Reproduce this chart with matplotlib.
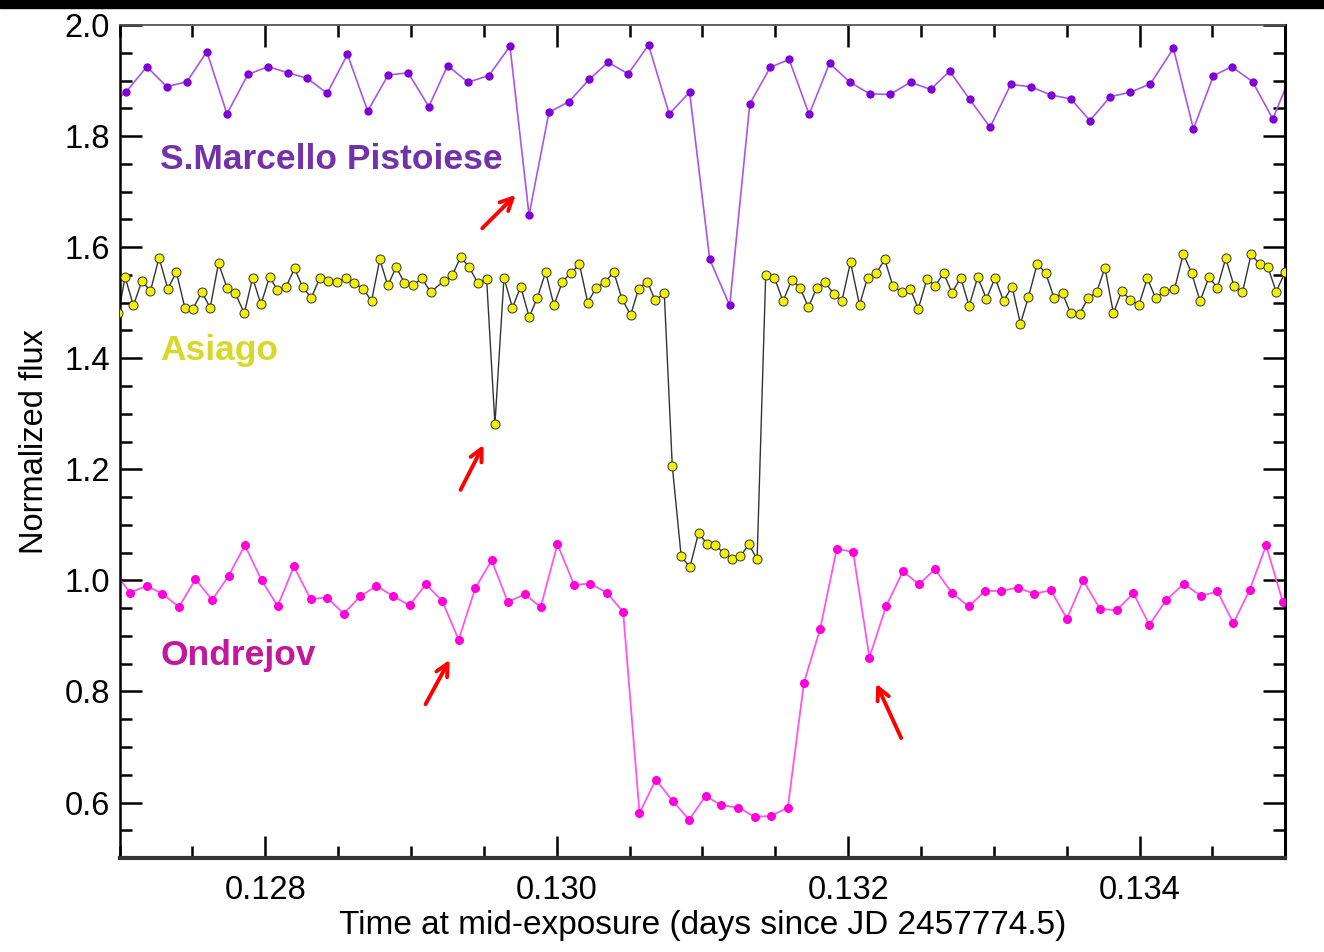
# Import the relevant packages
import matplotlib
matplotlib.use("Agg")
import matplotlib.pyplot as plt
from matplotlib.patches import Rectangle
from matplotlib.ticker import MultipleLocator, FormatStrFormatter

# Use a Helvetica-like font everywhere
plt.rcParams["font.family"] = ["Liberation Sans", "DejaVu Sans"]

# S.Marcello Pistoiese light curve (time in days since JD 2457774.5, normalized flux)
marcello_time = [
    0.126904, 0.127043, 0.127187, 0.127324, 0.127462, 0.127599, 0.127737, 0.127881,
    0.128019, 0.128156, 0.128289, 0.128424, 0.128564, 0.128703, 0.128843, 0.128981,
    0.129122, 0.129251, 0.129390, 0.129535, 0.129679, 0.129810, 0.129947, 0.130085,
    0.130222, 0.130353, 0.130490, 0.130630, 0.130772, 0.130912, 0.131050, 0.131187,
    0.131325, 0.131466, 0.131595, 0.131732, 0.131872, 0.132012, 0.132149, 0.132287,
    0.132428, 0.132566, 0.132696, 0.132834, 0.132974, 0.133116, 0.133253, 0.133391,
    0.133528, 0.133659, 0.133799, 0.133936, 0.134074, 0.134232, 0.134369, 0.134507,
    0.134632, 0.134775, 0.134914, 0.135052,
]
marcello_flux = [
    1.851, 1.879, 1.925, 1.889, 1.898, 1.952, 1.840, 1.911,
    1.925, 1.914, 1.904, 1.877, 1.947, 1.845, 1.910, 1.914,
    1.853, 1.927, 1.897, 1.909, 1.962, 1.658, 1.843, 1.862,
    1.902, 1.933, 1.912, 1.964, 1.840, 1.879, 1.578, 1.495,
    1.858, 1.924, 1.938, 1.839, 1.931, 1.897, 1.876, 1.875,
    1.897, 1.884, 1.917, 1.866, 1.816, 1.893, 1.889, 1.874,
    1.867, 1.828, 1.871, 1.879, 1.894, 1.958, 1.813, 1.909,
    1.925, 1.898, 1.831, 1.919,
]

# Asiago light curve
asiago_time = [
    0.126992, 0.127038, 0.127095, 0.127153, 0.127212, 0.127271, 0.127331, 0.127390,
    0.127448, 0.127503, 0.127565, 0.127622, 0.127679, 0.127737, 0.127794, 0.127856,
    0.127913, 0.127970, 0.128030, 0.128082, 0.128142, 0.128201, 0.128256, 0.128316,
    0.128373, 0.128433, 0.128493, 0.128552, 0.128612, 0.128672, 0.128729, 0.128786,
    0.128841, 0.128898, 0.128955, 0.129017, 0.129074, 0.129134, 0.129225, 0.129283,
    0.129340, 0.129397, 0.129459, 0.129519, 0.129576, 0.129638, 0.129696, 0.129753,
    0.129811, 0.129867, 0.129924, 0.129981, 0.130039, 0.130096, 0.130156, 0.130213,
    0.130270, 0.130330, 0.130392, 0.130447, 0.130507, 0.130562, 0.130621, 0.130676,
    0.130738, 0.130793, 0.130854, 0.130914, 0.130974, 0.131029, 0.131086, 0.131146,
    0.131205, 0.131260, 0.131318, 0.131375, 0.131434, 0.131494, 0.131553, 0.131613,
    0.131670, 0.131727, 0.131785, 0.131842, 0.131902, 0.131957, 0.132016, 0.132078,
    0.132133, 0.132193, 0.132251, 0.132307, 0.132366, 0.132426, 0.132481, 0.132541,
    0.132596, 0.132655, 0.132713, 0.132772, 0.132830, 0.132889, 0.132949, 0.133008,
    0.133066, 0.133125, 0.133182, 0.133237, 0.133297, 0.133356, 0.133414, 0.133471,
    0.133526, 0.133588, 0.133645, 0.133705, 0.133762, 0.133820, 0.133877, 0.133936,
    0.133995, 0.134053, 0.134110, 0.134170, 0.134239, 0.134300, 0.134357, 0.134415,
    0.134476, 0.134534, 0.134591, 0.134648, 0.134706, 0.134765, 0.134823, 0.134880,
    0.134937, 0.134999,
]
asiago_flux = [
    1.481, 1.546, 1.495, 1.539, 1.521, 1.581, 1.525, 1.555,
    1.491, 1.489, 1.519, 1.491, 1.571, 1.527, 1.517, 1.481,
    1.545, 1.497, 1.547, 1.523, 1.528, 1.562, 1.528, 1.509,
    1.544, 1.539, 1.537, 1.545, 1.535, 1.525, 1.503, 1.578,
    1.531, 1.564, 1.536, 1.531, 1.545, 1.519, 1.539, 1.549,
    1.582, 1.565, 1.535, 1.542, 1.281, 1.545, 1.491, 1.529,
    1.474, 1.509, 1.555, 1.495, 1.538, 1.553, 1.569, 1.500,
    1.527, 1.537, 1.555, 1.507, 1.478, 1.525, 1.538, 1.504,
    1.517, 1.206, 1.043, 1.024, 1.086, 1.066, 1.063, 1.050,
    1.039, 1.043, 1.065, 1.038, 1.549, 1.545, 1.503, 1.541,
    1.527, 1.492, 1.527, 1.537, 1.515, 1.503, 1.573, 1.496,
    1.545, 1.553, 1.578, 1.530, 1.520, 1.525, 1.489, 1.543,
    1.530, 1.553, 1.518, 1.545, 1.494, 1.546, 1.507, 1.545,
    1.503, 1.529, 1.462, 1.510, 1.570, 1.553, 1.508, 1.517,
    1.481, 1.480, 1.508, 1.519, 1.563, 1.481, 1.521, 1.505,
    1.496, 1.544, 1.508, 1.521, 1.524, 1.588, 1.553, 1.503,
    1.546, 1.527, 1.580, 1.530, 1.519, 1.587, 1.570, 1.564,
    1.520, 1.555,
]

# Ondrejov light curve
ondrejov_time = [
    0.126959, 0.127072, 0.127187, 0.127294, 0.127407, 0.127521, 0.127636, 0.127748,
    0.127860, 0.127975, 0.128085, 0.128197, 0.128311, 0.128424, 0.128538, 0.128651,
    0.128763, 0.128875, 0.128990, 0.129102, 0.129214, 0.129327, 0.129441, 0.129553,
    0.129665, 0.129780, 0.129890, 0.130005, 0.130119, 0.130229, 0.130344, 0.130456,
    0.130568, 0.130680, 0.130795, 0.130909, 0.131022, 0.131127, 0.131246, 0.131361,
    0.131473, 0.131586, 0.131696, 0.131808, 0.131922, 0.132034, 0.132146, 0.132261,
    0.132376, 0.132486, 0.132596, 0.132710, 0.132827, 0.132940, 0.133052, 0.133162,
    0.133276, 0.133391, 0.133501, 0.133613, 0.133727, 0.133842, 0.133957, 0.134067,
    0.134181, 0.134303, 0.134420, 0.134534, 0.134644, 0.134756, 0.134868, 0.134983,
]
ondrejov_flux = [
    1.016, 0.978, 0.990, 0.976, 0.952, 1.002, 0.965, 1.008,
    1.063, 1.000, 0.954, 1.025, 0.966, 0.969, 0.940, 0.971,
    0.990, 0.972, 0.955, 0.993, 0.963, 0.893, 0.986, 1.036,
    0.961, 0.975, 0.952, 1.065, 0.992, 0.994, 0.978, 0.943,
    0.581, 0.641, 0.603, 0.569, 0.612, 0.595, 0.591, 0.574,
    0.576, 0.591, 0.815, 0.913, 1.057, 1.051, 0.861, 0.954,
    1.016, 0.993, 1.020, 0.978, 0.953, 0.981, 0.981, 0.987,
    0.976, 0.982, 0.931, 1.000, 0.949, 0.946, 0.977, 0.920,
    0.964, 0.994, 0.972, 0.980, 0.923, 0.983, 1.063, 0.961,
]

# Red arrows pointing at the secondary dips: (tail x, tail y, head x, head y)
arrows = [
    (0.129489, 1.634, 0.129718, 1.694),
    (0.129340, 1.163, 0.129498, 1.244),
    (0.129100, 0.777, 0.129265, 0.857),
    (0.132364, 0.716, 0.132193, 0.814),
]

# Make the figure (1324 x 952 pixels)
fig = plt.figure(figsize=(13.24, 9.52), dpi=100)
ax = fig.add_axes([0.0903, 0.0987, 0.8805, 0.8750])

# Thin black band along the top of the picture
fig.add_artist(Rectangle((0, 1 - 8 / 952), 1, 8 / 952, color="black",
                         transform=fig.transFigure, zorder=0))

# Plot the three light curves
ax.plot(marcello_time, marcello_flux, "-", color="#a855ee", lw=1.2, zorder=2)
ax.plot(marcello_time, marcello_flux, "o", color="#7e00d6", ms=6, mew=0, zorder=3)

ax.plot(asiago_time, asiago_flux, "-", color="#333333", lw=1.0, zorder=2)
ax.plot(asiago_time, asiago_flux, "o", mfc="#f2f200", mec="#333333",
        ms=6.5, mew=0.7, zorder=3)

ax.plot(ondrejov_time, ondrejov_flux, "-", color="#ff55ee", lw=1.3, zorder=2)
ax.plot(ondrejov_time, ondrejov_flux, "o", color="#ff00d8", ms=6.5, mew=0, zorder=3)

# Station names
ax.text(0.127278, 1.758, "S.Marcello Pistoiese", color="#7432a8",
        fontsize=25.5, fontweight="bold", va="center", ha="left")
ax.text(0.127278, 1.414, "Asiago", color="#d8d82a",
        fontsize=25.5, fontweight="bold", va="center", ha="left")
ax.text(0.127278, 0.865, "Ondrejov", color="#c2189e",
        fontsize=25.5, fontweight="bold", va="center", ha="left")

# Red arrows
for x0, y0, x1, y1 in arrows:
    ax.annotate("", xy=(x1, y1), xytext=(x0, y0),
                arrowprops=dict(arrowstyle="->", color="red", lw=2.8,
                                mutation_scale=22, shrinkA=0, shrinkB=0))

# Axis ranges and ticks
ax.set_xlim(0.127, 0.135)
ax.set_ylim(0.5, 2.0)
ax.xaxis.set_major_locator(MultipleLocator(0.002))
ax.xaxis.set_minor_locator(MultipleLocator(0.0005))
ax.yaxis.set_major_locator(MultipleLocator(0.2))
ax.yaxis.set_minor_locator(MultipleLocator(0.05))
ax.xaxis.set_major_formatter(FormatStrFormatter("%.3f"))
ax.yaxis.set_major_formatter(FormatStrFormatter("%.1f"))
ax.tick_params(which="both", direction="in", top=True, right=True, colors="black")
ax.tick_params(which="major", length=16, width=1.8, labelsize=23.5)
ax.tick_params(which="minor", length=8.5, width=1.8)
ax.tick_params(axis="x", which="major", pad=12)
ax.tick_params(axis="y", which="major", pad=7)

# Frame
ax.spines["left"].set_linewidth(1.8)
ax.spines["right"].set_linewidth(2.2)
ax.spines["top"].set_linewidth(1.3)
ax.spines["top"].set_color("#555555")
ax.spines["bottom"].set_linewidth(3.0)
ax.spines["bottom"].set_color("#333333")

# Axis labels
ax.set_xlabel("Time at mid-exposure (days since JD 2457774.5)", fontsize=24, labelpad=3)
ax.set_ylabel("Normalized flux", fontsize=23.5, labelpad=10)

# Save the figure
fig.savefig("out.png", dpi=100)
